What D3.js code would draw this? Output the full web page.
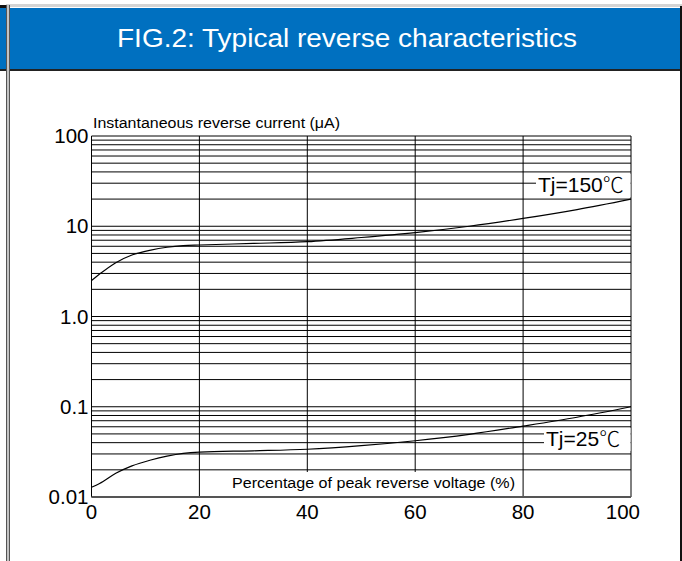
<!DOCTYPE html>
<html>
<head>
<meta charset="utf-8">
<script src="https://cdn.jsdelivr.net/npm/d3@7"></script>
<style>
  html, body { margin: 0; padding: 0; background: #fff; }
  svg { display: block; }
  text { font-family: "Liberation Sans", Arial, sans-serif; }
</style>
</head>
<body>
<svg id="chart" width="682" height="561"></svg>
<script>
// ---- data ----
const titleText = "FIG.2: Typical reverse characteristics";
const yTitle = "Instantaneous reverse current (\u03BCA)";
const xTitle = "Percentage of peak reverse voltage (%)";
const xTicks = [0, 20, 40, 60, 80, 100];
const yTickValues = [100, 10, 1, 0.1, 0.01];
const yTickLabels = ["100", "10", "1.0", "0.1", "0.01"];
const pct   = [0, 1.5, 4.5, 7.5, 11, 14, 17, 20, 30, 40, 50, 60, 70, 80, 90, 100];
const tj150 = [2.5, 2.95, 3.95, 4.8, 5.45, 5.85, 6.1, 6.2, 6.45, 6.75, 7.5, 8.5, 10.0, 12.2, 15.3, 20];
const tj25  = [0.0128, 0.0141, 0.0183, 0.0221, 0.0257, 0.0284, 0.0305, 0.0315, 0.0325, 0.0338, 0.037, 0.042, 0.0495, 0.061, 0.0765, 0.1];
const seriesLabels = ["Tj=150", "Tj=25"];

// ---- drawing ----
const svg = d3.select("#chart");

// frame / header
svg.append("rect").attr("x", 6).attr("y", 4).attr("width", 676).attr("height", 3).attr("fill", "#d4d4d4");
svg.append("rect").attr("x", 0).attr("y", 5).attr("width", 7).attr("height", 3).attr("fill", "#111");
svg.append("rect").attr("x", 0).attr("y", 8).attr("width", 680).attr("height", 61).attr("fill", "#0070C0");
svg.append("rect").attr("x", 0).attr("y", 69).attr("width", 682).attr("height", 2).attr("fill", "#222");
svg.append("rect").attr("x", 680).attr("y", 6).attr("width", 2).attr("height", 555).attr("fill", "#111");
svg.append("rect").attr("x", 7).attr("y", 5).attr("width", 2).attr("height", 556).attr("fill", "#c4c4c4");
svg.append("line").attr("x1", 6.5).attr("x2", 6.5).attr("y1", 5).attr("y2", 561).attr("stroke", "#555").attr("stroke-width", 1);
svg.append("line").attr("x1", 9.5).attr("x2", 9.5).attr("y1", 5).attr("y2", 561).attr("stroke", "#555").attr("stroke-width", 1);

svg.append("text")
  .attr("x", 117).attr("y", 47)
  .attr("fill", "#fff")
  .attr("font-size", 25)
  .attr("textLength", 460)
  .attr("lengthAdjust", "spacingAndGlyphs")
  .text(titleText);

// scales
const x = d3.scaleLinear().domain([0, 100]).range([91.5, 631]);
const y = d3.scaleLog().domain([0.01, 100]).range([497, 136]);

const plot = svg.append("g");

// horizontal grid (log minor lines)
const gridVals = [];
[0.01, 0.1, 1, 10].forEach(d => { for (let k = 1; k <= 9; k++) gridVals.push(k * d); });
gridVals.push(100);
plot.selectAll("line.h").data(gridVals).enter().append("line")
  .attr("class", "h")
  .attr("x1", x(0)).attr("x2", x(100))
  .attr("y1", d => y(d)).attr("y2", d => y(d))
  .attr("stroke", "#000").attr("stroke-width", 1);

// vertical grid
plot.selectAll("line.v").data(xTicks).enter().append("line")
  .attr("class", "v")
  .attr("x1", d => x(d)).attr("x2", d => x(d))
  .attr("y1", y(100)).attr("y2", y(0.01))
  .attr("stroke", "#000").attr("stroke-width", 1);

// bottom border slightly heavier
plot.append("line")
  .attr("x1", x(0)).attr("x2", x(100))
  .attr("y1", y(0.01)).attr("y2", y(0.01))
  .attr("stroke", "#555").attr("stroke-width", 2);

// white boxes behind in-plot labels
plot.append("rect").attr("x", 536).attr("y", 174).attr("width", x(100) - 536 - 0.5).attr("height", 23).attr("fill", "#fff");
plot.append("rect").attr("x", 544).attr("y", 428).attr("width", x(100) - 544 - 0.5).attr("height", 23).attr("fill", "#fff");
plot.append("rect").attr("x", 201).attr("y", 472).attr("width", 320).attr("height", 24).attr("fill", "#fff");

// curves
const line = d3.line().x(d => x(d[0])).y(d => y(d[1])).curve(d3.curveMonotoneX);
[tj150, tj25].forEach(vals => {
  plot.append("path")
    .datum(pct.map((p, i) => [p, vals[i]]))
    .attr("d", line)
    .attr("fill", "none")
    .attr("stroke", "#000")
    .attr("stroke-width", 1.2);
});

// series labels
const lab = [
  { t: seriesLabels[0], x: 538, y: 192 },
  { t: seriesLabels[1], x: 546, y: 446 }
];
lab.forEach(l => {
  const t = plot.append("text").attr("x", l.x).attr("y", l.y).attr("font-size", 21).attr("fill", "#000");
  t.append("tspan").text(l.t);
  t.append("tspan").attr("font-family", "'Noto Sans CJK SC', sans-serif").attr("font-weight", 300).text("\u2103");
});

// axis titles
svg.append("text").attr("x", 93).attr("y", 128).attr("font-size", 15.5).attr("fill", "#000")
  .attr("textLength", 247).attr("lengthAdjust", "spacingAndGlyphs").text(yTitle);
plot.append("text").attr("x", 232).attr("y", 488).attr("font-size", 15.5).attr("fill", "#000")
  .attr("textLength", 283).attr("lengthAdjust", "spacingAndGlyphs").text(xTitle);

// y tick labels
svg.selectAll("text.yt").data(yTickValues).enter().append("text")
  .attr("class", "yt")
  .attr("x", 88.5)
  .attr("y", d => y(d) + 7)
  .attr("text-anchor", "end")
  .attr("font-size", 20.5)
  .attr("fill", "#000")
  .text((d, i) => yTickLabels[i]);

// x tick labels
svg.selectAll("text.xt").data(xTicks).enter().append("text")
  .attr("class", "xt")
  .attr("x", (d, i) => i === xTicks.length - 1 ? x(d) + 9 : x(d))
  .attr("y", 519)
  .attr("text-anchor", (d, i) => i === xTicks.length - 1 ? "end" : "middle")
  .attr("font-size", 20.5)
  .attr("fill", "#000")
  .text(d => d);
</script>
</body>
</html>
